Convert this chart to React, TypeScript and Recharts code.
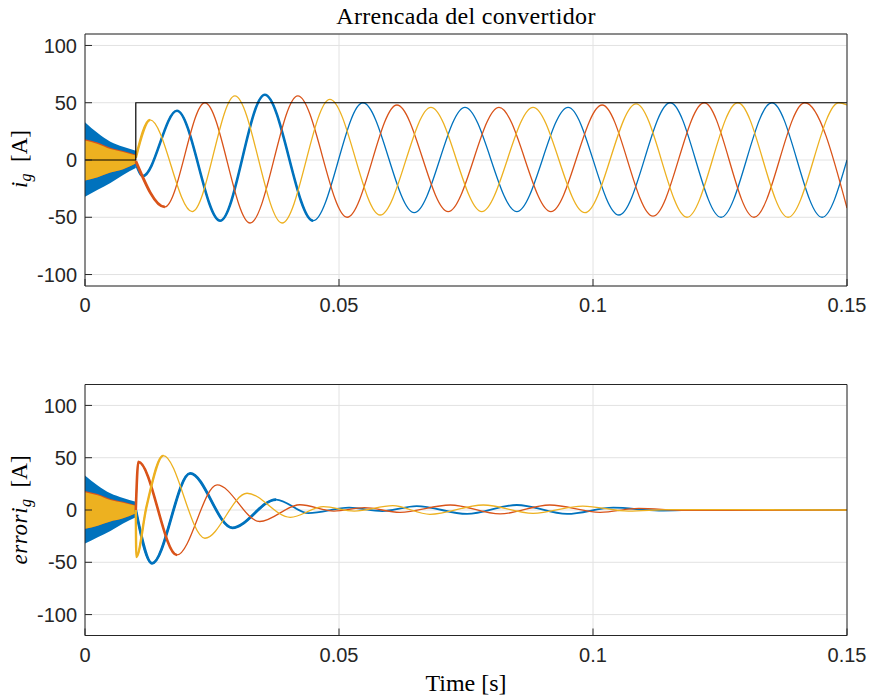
import React from 'react';
import { ComposedChart, Line, Area, XAxis, YAxis, CartesianGrid } from 'recharts';

// ---------- axes ----------
const X_TICKS = [0, 0.05, 0.1, 0.15];
const X_TICK_LABELS = ['0', '0.05', '0.1', '0.15'];
const Y_TICKS = [-100, -50, 0, 50, 100];
const TOP_Y_DOMAIN = [-110, 110];
const BOTTOM_Y_DOMAIN = [-120, 120];

// ---------- pre-start switching ripple envelope (0 .. 0.01 s) ----------
const BAND_T = [0, 0.0025, 0.005, 0.0075, 0.01];
const BAND_BLUE_HI = [33, 23.5, 16, 11.5, 8];
const BAND_BLUE_LO = [-32, -26, -20, -13, -7];
const BAND_ORANGE_HI = [18.2, 15.2, 10.6, 7.8, 4.6];
const BAND_YELLOW_HI = [17, 14, 9.5, 7, 4];
const BAND_YELLOW_LO = [-18, -15, -11, -8, -3];

// ---------- reference amplitude (black) ----------
const REF_T = [0, 0.01, 0.01, 0.15];
const REF_V = [0, 0, 50, 50];

// ---------- i_g (top) : extremes ----------
const IG_BLUE_T = [0.01, 0.0114, 0.0181, 0.0266, 0.0354, 0.0449, 0.0547, 0.0648, 0.0748, 0.085, 0.0951, 0.1051, 0.1152, 0.1252, 0.1352, 0.1451, 0.15];
const IG_BLUE_V = [-3, -14, 43, -53, 57, -53, 50, -46, 46, -45, 46, -48, 50, -50, 50, -50, 0];
const IG_ORANGE_T = [0.01, 0.0157, 0.0236, 0.0325, 0.0419, 0.0516, 0.0614, 0.0715, 0.0815, 0.0917, 0.1018, 0.1118, 0.1219, 0.1317, 0.1417, 0.15];
const IG_ORANGE_V = [-1, -41, 50, -55, 56, -50, 48, -45, 46, -45, 48, -49, 50, -50, 50, -42];
const IG_YELLOW_T = [0.01, 0.0128, 0.0211, 0.0295, 0.0388, 0.0482, 0.0581, 0.0681, 0.0781, 0.0882, 0.0984, 0.1085, 0.1185, 0.1285, 0.1384, 0.1484, 0.15];
const IG_YELLOW_V = [2, 35, -45, 56, -55, 53, -48, 46, -45, 46, -46, 49, -50, 50, -50, 50, 48];

// ---------- error i_g (bottom) ----------
const ERR_BLUE_T = [0.01, 0.0132, 0.0207, 0.029, 0.0376, 0.044, 0.052, 0.0585, 0.0653, 0.0752, 0.085, 0.0949, 0.104, 0.113, 0.122, 0.15];
const ERR_BLUE_V = [0, -51, 35, -17, 10, -3, 2.2, -1, 3.8, -3.8, 4.8, -3.8, 2.2, -0.6, 0.2, 0];
const ERR_ORANGE_T = [0.01, 0.0105, 0.0181, 0.026, 0.0344, 0.0423, 0.049, 0.055, 0.062, 0.0719, 0.0817, 0.0915, 0.1014, 0.109, 0.118, 0.15];
const ERR_ORANGE_V = [0, 46, -43, 24, -11, 5, -1, 2.2, -2.2, 4.8, -3.8, 4.8, -2.2, 1.6, -0.4, 0];
const ERR_YELLOW_T = [0.01, 0.0101, 0.0121, 0.0154, 0.0236, 0.0319, 0.0404, 0.0469, 0.053, 0.0606, 0.0679, 0.0784, 0.0882, 0.098, 0.107, 0.115, 0.15];
const ERR_YELLOW_V = [0, -45, 3, 52, -27, 16, -7, 3.2, -1, 4.1, -4.1, 4.8, -3.2, 3.8, -1, 0.4, 0];

const BLUE = '#0072BD';
const ORANGE = '#D95319';
const YELLOW = '#EDB120';
const AXIS = '#262626';
const GRID = '#e2e2e2';

type P = { t: number; v: number };
const pts = (t: number[], v: number[]): P[] => t.map((x, i) => ({ t: x, v: v[i] }));
// first n extremes (thick ripple part); the last extreme is held flat for a moment so the curve ends level
const head = (t: number[], v: number[], n: number): P[] => [
  ...pts(t, v).slice(0, n),
  { t: t[n - 1] + 0.00002, v: v[n - 1] },
];
const band = (t: number[], lo: number[], hi: number[]) => t.map((x, i) => ({ t: x, r: [lo[i], hi[i]] }));

const tickFont = { fontFamily: 'Liberation Sans, Arial, sans-serif', fontSize: 20, fill: AXIS };

type SeriesDef = { data: P[]; color: string; width: number };

function Panel(props: {
  top: number;
  height: number;
  plotTop: number;
  plotBottom: number;
  yDomain: number[];
  bands: { data: any[]; color: string }[];
  series: SeriesDef[];
}) {
  const { top, height, plotTop, plotBottom, yDomain, bands, series } = props;
  const topAxisH = 8;
  const bottomAxisH = 30;
  return (
    <div style={{ position: 'absolute', left: 0, top, width: 869, height }}>
      <ComposedChart
        width={869}
        height={height}
        margin={{ top: plotTop - topAxisH, right: 0, bottom: height - plotBottom - bottomAxisH, left: 0 }}
      >
        <CartesianGrid stroke={GRID} strokeWidth={1} />
        <XAxis
          dataKey="t"
          type="number"
          domain={[0, 0.15]}
          ticks={X_TICKS}
          allowDataOverflow
          height={bottomAxisH}
          tickFormatter={(v: number) => X_TICK_LABELS[X_TICKS.indexOf(v)] ?? String(v)}
          tick={tickFont}
          tickSize={-7}
          tickMargin={19}
          axisLine={{ stroke: AXIS, strokeWidth: 1 }}
          tickLine={{ stroke: AXIS, strokeWidth: 1 }}
          interval={0}
        />
        <XAxis
          xAxisId="top"
          orientation="top"
          dataKey="t"
          type="number"
          domain={[0, 0.15]}
          ticks={X_TICKS}
          allowDataOverflow
          height={topAxisH}
          tick={false}
          tickSize={-7}
          axisLine={{ stroke: AXIS, strokeWidth: 1 }}
          tickLine={{ stroke: AXIS, strokeWidth: 1 }}
          interval={0}
        />
        <YAxis
          type="number"
          domain={yDomain}
          ticks={Y_TICKS}
          allowDataOverflow
          width={85}
          tick={tickFont}
          tickSize={-7}
          tickMargin={15}
          axisLine={{ stroke: AXIS, strokeWidth: 1 }}
          tickLine={{ stroke: AXIS, strokeWidth: 1 }}
          interval={0}
        />
        <YAxis
          yAxisId="right"
          orientation="right"
          type="number"
          domain={yDomain}
          ticks={Y_TICKS}
          allowDataOverflow
          width={22}
          tick={false}
          tickSize={-7}
          axisLine={{ stroke: AXIS, strokeWidth: 1 }}
          tickLine={{ stroke: AXIS, strokeWidth: 1 }}
          interval={0}
        />
        {bands.map((b, i) => (
          <Area
            key={'b' + i}
            data={b.data}
            dataKey="r"
            type="monotone"
            stroke="none"
            fill={b.color}
            fillOpacity={1}
            isAnimationActive={false}
          />
        ))}
        {series.map((s, i) => (
          <Line
            key={'s' + i}
            data={s.data}
            dataKey="v"
            type="monotone"
            dot={false}
            activeDot={false}
            stroke={s.color}
            strokeWidth={s.width}
            isAnimationActive={false}
          />
        ))}
      </ComposedChart>
    </div>
  );
}

export default function App() {
  const blueBand = band(BAND_T, BAND_BLUE_LO, BAND_BLUE_HI);
  const orangeBand = band(BAND_T, BAND_YELLOW_LO, BAND_ORANGE_HI);
  const yellowBand = band(BAND_T, BAND_YELLOW_LO, BAND_YELLOW_HI);
  const bands = [
    { data: blueBand, color: BLUE },
    { data: orangeBand, color: ORANGE },
    { data: yellowBand, color: YELLOW },
  ];

  const topSeries: SeriesDef[] = [
    { data: pts(IG_BLUE_T, IG_BLUE_V), color: BLUE, width: 1.3 },
    { data: head(IG_BLUE_T, IG_BLUE_V, 6), color: BLUE, width: 2.6 },
    { data: pts(IG_ORANGE_T, IG_ORANGE_V), color: ORANGE, width: 1.3 },
    { data: head(IG_ORANGE_T, IG_ORANGE_V, 2), color: ORANGE, width: 2.8 },
    { data: pts(IG_YELLOW_T, IG_YELLOW_V), color: YELLOW, width: 1.3 },
    { data: head(IG_YELLOW_T, IG_YELLOW_V, 2), color: YELLOW, width: 2.5 },
    { data: pts(REF_T, REF_V), color: '#000000', width: 1.2 },
  ];

  const bottomSeries: SeriesDef[] = [
    { data: pts(ERR_BLUE_T, ERR_BLUE_V), color: BLUE, width: 1.8 },
    { data: head(ERR_BLUE_T, ERR_BLUE_V, 5), color: BLUE, width: 2.8 },
    { data: pts(ERR_ORANGE_T, ERR_ORANGE_V), color: ORANGE, width: 1.3 },
    { data: head(ERR_ORANGE_T, ERR_ORANGE_V, 3), color: ORANGE, width: 2.6 },
    { data: pts(ERR_YELLOW_T, ERR_YELLOW_V), color: YELLOW, width: 1.3 },
    { data: head(ERR_YELLOW_T, ERR_YELLOW_V, 4), color: YELLOW, width: 2.4 },
  ];

  const serif = 'Liberation Serif, Times New Roman, serif';

  return (
    <div style={{ position: 'absolute', left: 0, top: 0, width: 869, height: 698, background: '#ffffff' }}>
      <Panel top={0} height={330} plotTop={34} plotBottom={286} yDomain={TOP_Y_DOMAIN} bands={bands} series={topSeries} />
      <Panel top={350} height={348} plotTop={34.5} plotBottom={285.5} yDomain={BOTTOM_Y_DOMAIN} bands={bands} series={bottomSeries} />
      <svg
        width={869}
        height={698}
        style={{ position: 'absolute', left: 0, top: 0, pointerEvents: 'none' }}
      >
        <text x={466} y={24} textAnchor="middle" fontFamily={serif} fontSize={24} letterSpacing={0.3} fill="#000">
          Arrencada del convertidor
        </text>
        <text transform="translate(27,159) rotate(-90)" textAnchor="middle" fontFamily={serif} fontSize={23} fill="#000">
          <tspan fontStyle="italic">i</tspan>
          <tspan fontStyle="italic" fontSize={16} dy={4}>g</tspan>
          <tspan dy={-4}>{'\u00A0\u00A0[A]'}</tspan>
        </text>
        <text transform="translate(27,510) rotate(-90)" textAnchor="middle" fontFamily={serif} fontSize={23} fill="#000">
          <tspan fontStyle="italic" letterSpacing={0.6}>errori</tspan>
          <tspan fontStyle="italic" fontSize={16} dy={4}>g</tspan>
          <tspan dy={-4}>{'\u00A0\u00A0[A]'}</tspan>
        </text>
        <text x={466} y={691} textAnchor="middle" fontFamily={serif} fontSize={24} fill="#000">
          Time [s]
        </text>
      </svg>
    </div>
  );
}
